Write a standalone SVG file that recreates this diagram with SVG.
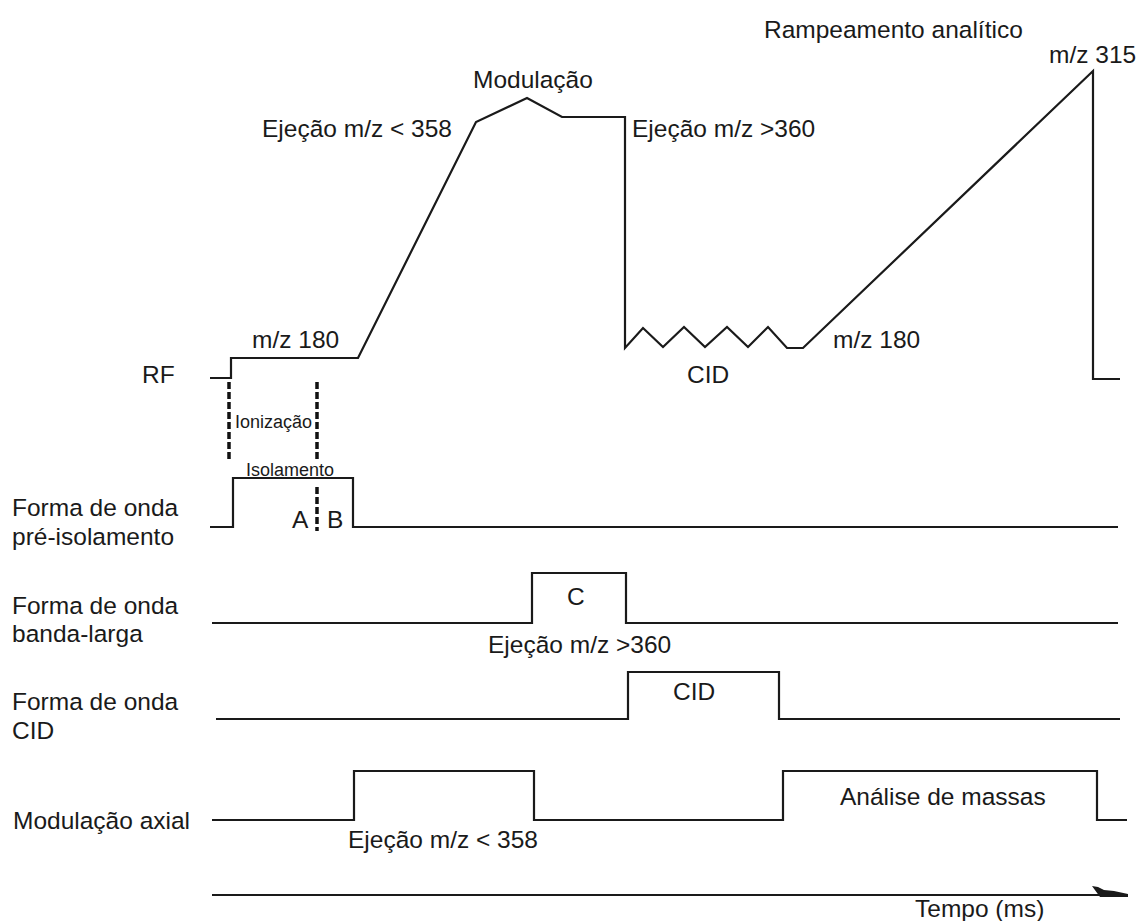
<svg xmlns="http://www.w3.org/2000/svg" width="1140" height="921" viewBox="0 0 1140 921">
<style>
  .t { font-family: "Liberation Sans", Arial, sans-serif; font-size: 24.5px; fill: #1a1a1a; }
  .s { font-family: "Liberation Sans", Arial, sans-serif; font-size: 18px; fill: #1a1a1a; }
  .w { fill: none; stroke: #1a1a1a; stroke-width: 2.2; stroke-linejoin: miter; }
  .d { fill: none; stroke: #111; stroke-width: 3.5; stroke-dasharray: 7 3; }
</style>
<rect width="1140" height="921" fill="#ffffff"/>

<g id="rf">
  <text class="t" x="142" y="383">RF</text>
  <polyline class="w" points="210,378 231,378 231,358 358,358 476,122 527,98 562,117 625,117 625,348 643,328 663,347 684,327 705,347 727,327 748,347 768,327 787,348 803,348 1093,71 1093,379 1120,379"/>
  <text class="t" x="252" y="348">m/z 180</text>
  <text class="t" x="262" y="137">Ejeção m/z &lt; 358</text>
  <text class="t" x="473" y="88">Modulação</text>
  <text class="t" x="632" y="137">Ejeção m/z &gt;360</text>
  <text class="t" x="687" y="383">CID</text>
  <text class="t" x="833" y="348">m/z 180</text>
  <text class="t" x="764" y="38">Rampeamento analítico</text>
  <text class="t" x="1049" y="63">m/z 315</text>
</g>

<g id="ionizacao">
  <line class="d" x1="229" y1="382" x2="229" y2="460"/>
  <line class="d" x1="317" y1="382" x2="317" y2="460"/>
  <text class="s" x="235" y="428">Ionização</text>
</g>

<g id="pre-isolamento">
  <text class="t" x="12" y="516">Forma de onda</text>
  <text class="t" x="12" y="545">pré-isolamento</text>
  <polyline class="w" points="210,527 233,527 233,478 353,478 353,527 1118,527"/>
  <text class="s" x="246" y="476">Isolamento</text>
  <line class="d" x1="317" y1="487" x2="317" y2="531"/>
  <text class="t" x="292" y="528">A</text>
  <text class="t" x="327" y="528">B</text>
</g>

<g id="banda-larga">
  <text class="t" x="12" y="614">Forma de onda</text>
  <text class="t" x="12" y="642">banda-larga</text>
  <polyline class="w" points="212,623 532,623 532,573 626,573 626,623 1118,623"/>
  <text class="t" x="567" y="605">C</text>
  <text class="t" x="488" y="653">Ejeção m/z &gt;360</text>
</g>

<g id="cid">
  <text class="t" x="12" y="710">Forma de onda</text>
  <text class="t" x="12" y="739">CID</text>
  <polyline class="w" points="216,719 628,719 628,672 779,672 779,719 1120,719"/>
  <text class="t" x="673" y="700">CID</text>
</g>

<g id="modulacao-axial">
  <text class="t" x="13" y="829">Modulação axial</text>
  <polyline class="w" points="212,820 354,820 354,771 534,771 534,820 783,820 783,771 1097,771 1097,820 1127,820"/>
  <text class="t" x="348" y="848">Ejeção m/z &lt; 358</text>
  <text class="t" x="840" y="805">Análise de massas</text>
</g>

<g id="connectors">
  <line class="w" x1="212" y1="895" x2="1128" y2="895"/>
  <path d="M1092,886 L1098,887 L1104,890 L1114,891 L1128,894 L1128,897 L1100,897 Z" fill="#1a1a1a"/>
  <text class="t" x="915" y="917">Tempo (ms)</text>
</g>
</svg>
